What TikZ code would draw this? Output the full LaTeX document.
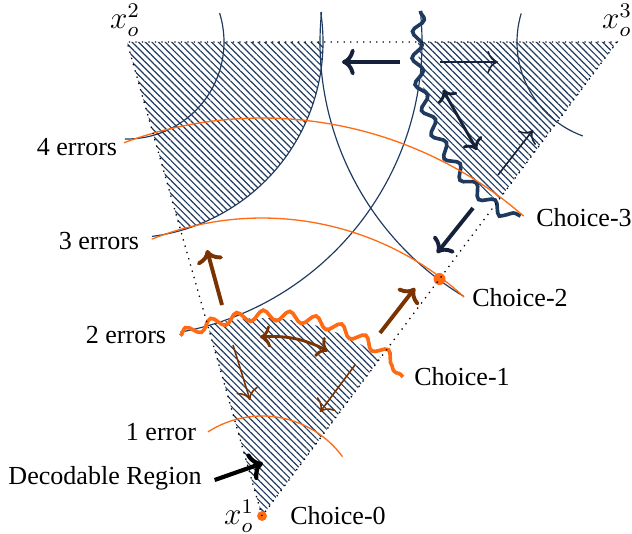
\documentclass[tikz,border=0pt]{standalone}
\usepackage{fontspec}
\setmainfont{Liberation Serif}
\usepackage{tikz}
\usetikzlibrary{positioning,arrows.meta,calc,patterns.meta,decorations.pathmorphing}
\definecolor{navy}{HTML}{1F3A5F}
\definecolor{ink}{HTML}{15213A}
\definecolor{flame}{HTML}{FF6A13}
\definecolor{rust}{HTML}{7A3300}

\begin{document}
\begin{tikzpicture}[x=1.35cm, y=1.35cm,
    hatch/.style={pattern={Lines[angle=-45,distance=1.8pt,line width=0.45pt]}, pattern color=navy},
    ring/.style={draw=navy, line width=0.45pt},
    errring/.style={draw=flame, line width=0.5pt},
    wavy/.style={line width=1.4pt, decorate, decoration={snake, amplitude=2pt, segment length=10pt}},
    dot/.style={circle, fill=flame, inner sep=0pt, minimum size=#1},
    thinmove/.style={-{To[scale=1.4]}, line width=0.6pt},
    txt/.style={inner sep=1pt},
    corner/.style={inner sep=1pt, font=\large}]
    \useasboundingbox (0,0) rectangle (6.32,5.33);

    % corners of the simplex
    \coordinate (O1) at (2.62,0.17);
    \coordinate (O2) at (1.27,4.91);
    \coordinate (O3) at (6.17,4.91);
    \coordinate (C2) at ($(O1)!0.5!(O3)$);

    % decodable regions
    \begin{scope}
        \clip (O1) -- (O2) -- (O3) -- cycle;
        \fill[hatch] (O1) circle (1.98);
        \fill[hatch] (O2) circle (1.96);
        \fill[hatch] (O3) circle (1.99);
    \end{scope}

    % rings around x_o^2 and x_o^3
    \draw[ring] ([shift={(17.3:0.97)}]O2) arc[start angle=17.3, end angle=-91.2, radius=0.97];
    \draw[ring] ([shift={(8.7:1.96)}]O2) arc[start angle=8.7, end angle=-82.7, radius=1.96];
    \draw[ring] ([shift={(5.8:2.95)}]O2) arc[start angle=5.8, end angle=-79.6, radius=2.95];
    \draw[ring] ([shift={(163.4:1)}]O3) arc[start angle=163.4, end angle=250, radius=1];
    \draw[ring] ([shift={(174.2:2.97)}]O3) arc[start angle=174.2, end angle=238.9, radius=2.97];
    \draw[wavy, draw=navy] ([shift={(171:1.99)}]O3) arc[start angle=171, end angle=241, radius=1.99];

    % error levels around x_o^1
    \draw[errring] ([shift={(122.7:1)}]O1) arc[start angle=122.7, end angle=36.4, radius=1];
    \draw[wavy, draw=flame] ([shift={(114.4:1.98)}]O1) arc[start angle=114.4, end angle=44.6, radius=1.98];
    \draw[errring] ([shift={(111.7:2.98)}]O1) arc[start angle=111.7, end angle=47.3, radius=2.98];
    \draw[errring] ([shift={(110.3:3.98)}]O1) arc[start angle=110.3, end angle=48.9, radius=3.98];

    % choices on the edge
    \node[dot=3.8pt] (d0) at (O1) {};
    \node[dot=4.6pt] (d2) at (C2) {};
    \draw[dotted, line width=0.5pt] (O1) -- (O2) -- (O3) -- cycle;

    % moves near x_o^3
    \draw[->, line width=1.5pt, draw=ink] (4.00,4.71) -- (3.42,4.71);
    \draw[thinmove, draw=ink] (4.40,4.71) -- (4.98,4.71);
    \draw[<->, line width=1.1pt, draw=ink] (4.43,4.43) -- (4.77,3.83);
    \draw[thinmove, draw=ink] (4.98,3.58) -- (5.33,4.03);
    \draw[->, line width=1.5pt, draw=ink] (4.73,3.25) -- (4.37,2.80);

    % moves near x_o^1
    \draw[->, line width=1.5pt, draw=rust] (2.22,2.28) -- (2.07,2.83);
    \draw[->, line width=1.5pt, draw=rust] (3.80,2.00) -- (4.15,2.45);
    \draw[thinmove, draw=rust] (2.33,1.88) -- (2.50,1.33);
    \draw[thinmove, draw=rust] (3.55,1.68) -- (3.20,1.21);
    \draw[<->, line width=1.1pt, draw=rust] (2.60,1.96) to[bend left=15] (3.28,1.82);

    % labels
    \node[corner] (x2) at (1.25,5.13) {$x_o^2$};
    \node[corner] (x3) at (6.17,5.13) {$x_o^3$};
    \node[corner] (x1) at (2.39,0.17) {$x_o^1$};
    \node[txt] (ch0) at (3.38,0.17) {Choice-0};
    \node[txt] (ch1) at (4.62,1.56) {Choice-1};
    \node[txt] (ch2) at (5.20,2.35) {Choice-2};
    \node[txt] (ch3) at (5.84,3.15) {Choice-3};
    \node[txt] (e4) at (0.77,3.86) {4 errors};
    \node[txt] (e3) at (0.99,2.92) {3 errors};
    \node[txt] (e2) at (1.26,1.98) {2 errors};
    \node[txt] (e1) at (1.61,1.01) {1 error};
    \node[txt] (dec) at (1.05,0.55) {Decodable Region};
    \draw[->, line width=1.6pt] (dec.east) ++(0.1,-0.02) -- (2.63,0.70);
\end{tikzpicture}
\end{document}
